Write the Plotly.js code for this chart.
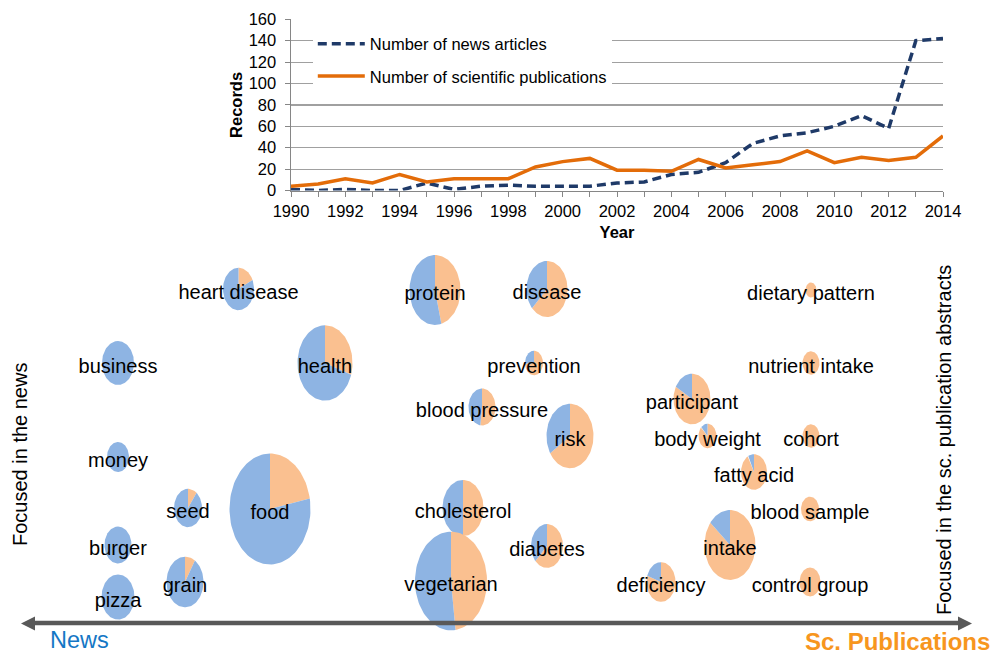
<!DOCTYPE html>
<html>
<head>
<meta charset="utf-8">
<script src="https://cdn.plot.ly/plotly-3.0.1.min.js"></script>
<style>html,body{margin:0;padding:0;background:#fff}#chart{width:993px;height:654px}</style>
</head>
<body>
<div id="chart"></div>
<script>
// ---- Top chart data ----
const years = [1990,1991,1992,1993,1994,1995,1996,1997,1998,1999,2000,2001,2002,2003,2004,2005,2006,2007,2008,2009,2010,2011,2012,2013,2014];
const newsArticles = [1,0,1,0,0,7,1,4,5,4,4,4,7,8,15,17,26,44,51,54,60,70,58,140,142];
const sciPublications = [4,6,11,7,15,8,11,11,11,22,27,30,19,19,18,29,21,24,27,37,26,31,28,31,51];

// ---- Term map data (position on the news <-> sc. publications map) ----
const terms = ["heart disease","protein","disease","dietary pattern","business","health","prevention","nutrient intake","participant","blood pressure","risk","body weight","cohort","money","fatty acid","seed","food","cholesterol","blood sample","burger","diabetes","intake","grain","vegetarian","deficiency","control group","pizza"];
const termX = [238.5,435,547,811,118,325,534,811,692,482,570,707.5,811,118,754,188,270,463,810,118,547,730,185,451,661,810,118];
const termY = [289,290,289,290,363,363,363,363,399,407,436,436,436,457,472,508,509,508,509,545,546,545,582,581,582,582,597];
const termSize = [31,51,41,11,32,55,18,17,37,27,47,18,17,22,26,28,81,41,18,27,32,51,37,72,29,21,33];
const sciShare = [0.18,0.46,0.63,1,0,0.30,0.74,1,0.83,0.52,0.66,0.87,1,0,0.92,0.105,0.22,0.5,1,0,0.63,0.86,0.09,0.48,0.8,1,0];

const NAVY = "#1f3a68", ORANGE = "#e36c09";
const BLUE_SLICE = "#8eb4e3", ORANGE_SLICE = "#fac090";
const FONT = "Arial, 'Liberation Sans', sans-serif";
const ASPECT = 1.37;

const traces = [];
traces.push({
  x: years, y: newsArticles, type: "scatter", mode: "lines",
  name: "Number of news articles", legendgroup: "a",
  line: {color: NAVY, width: 3.5, dash: "9px,5px"},
  xaxis: "x", yaxis: "y", hoverinfo: "x+y"
});
traces.push({
  x: years, y: sciPublications, type: "scatter", mode: "lines",
  name: "Number of scientific publications", legendgroup: "b",
  line: {color: ORANGE, width: 3.5},
  xaxis: "x", yaxis: "y", hoverinfo: "x+y"
});

function slice(cx, cy, rx, ry, a0, a1, withCenter) {
  const xs = [], ys = [];
  if (withCenter) { xs.push(cx); ys.push(cy); }
  const n = Math.max(4, Math.ceil((a1 - a0) / (Math.PI * 2) * 120));
  for (let k = 0; k <= n; k++) {
    const t = a0 + (a1 - a0) * k / n;
    xs.push(cx + rx * Math.sin(t));
    ys.push(cy - ry * Math.cos(t));
  }
  if (withCenter) { xs.push(cx); ys.push(cy); }
  return {xs, ys};
}

terms.forEach((term, i) => {
  const rx = termSize[i] / 2, ry = rx * ASPECT;
  const s = sciShare[i];
  const full = (s <= 0 || s >= 1);
  const parts = [];
  if (s > 0) parts.push({a0: 0, a1: 2 * Math.PI * s, color: ORANGE_SLICE, name: "Sc. publications"});
  if (s < 1) parts.push({a0: 2 * Math.PI * s, a1: 2 * Math.PI, color: BLUE_SLICE, name: "News"});
  parts.forEach(p => {
    const g = slice(termX[i], termY[i], rx, ry, p.a0, p.a1, !full);
    traces.push({
      x: g.xs, y: g.ys, type: "scatter", mode: "lines", fill: "toself",
      fillcolor: p.color, line: {width: 0, color: p.color},
      xaxis: "x2", yaxis: "y2", showlegend: false, hoverinfo: "text",
      text: term + " (" + p.name + ")"
    });
  });
});

traces.push({
  x: termX, y: termY.map(v => v + 5), text: terms, type: "scatter", mode: "text",
  textposition: "middle center",
  textfont: {family: FONT, size: 20, color: "#000"},
  xaxis: "x2", yaxis: "y2", showlegend: false, hoverinfo: "text"
});

const layout = {
  width: 993, height: 654,
  margin: {l: 0, r: 0, t: 0, b: 0},
  paper_bgcolor: "#fff", plot_bgcolor: "rgba(0,0,0,0)",
  font: {family: FONT, color: "#000"},
  showlegend: true,
  legend: {
    x: 0.315, y: 0.9596, xanchor: "left", yanchor: "top",
    bgcolor: "#fff", borderwidth: 0,
    font: {family: FONT, size: 16.5, color: "#000"},
    itemwidth: 47, tracegroupgap: 8, traceorder: "grouped"
  },
  xaxis: {
    domain: [291/993, 943/993], anchor: "y",
    range: [1990, 2014], dtick: 2, tick0: 1990,
    showgrid: false, zeroline: false,
    showline: true, linecolor: "#868686", linewidth: 1.5,
    ticks: "outside", ticklen: 5, tickcolor: "#868686",
    minor: {dtick: 1, ticks: "outside", ticklen: 5, tickcolor: "#868686", showgrid: false},
    tickfont: {family: FONT, size: 16.5, color: "#000"},
    title: {text: "<b>Year</b>", font: {family: FONT, size: 16.5, color: "#000"}, standoff: 7}
  },
  yaxis: {
    domain: [(654-190.5)/654, (654-19.3)/654], anchor: "x",
    range: [0, 160], dtick: 20,
    showgrid: true, gridcolor: "#a0a0a0", gridwidth: 1.2,
    zeroline: false, showline: true, linecolor: "#868686", linewidth: 1.5,
    ticks: "outside", ticklen: 5, tickcolor: "#868686",
    ticklabelstandoff: 5,
    tickfont: {family: FONT, size: 16.5, color: "#000"},
    title: {text: "<b>Records</b>", font: {family: FONT, size: 16.5, color: "#000"}, standoff: 2}
  },
  xaxis2: {domain: [0, 1], anchor: "y2", range: [0, 993], visible: false, fixedrange: true},
  yaxis2: {domain: [0, 1], anchor: "x2", range: [654, 0], visible: false, fixedrange: true},
  shapes: [
    {type: "line", xref: "paper", yref: "paper", x0: 30/993, x1: 962/993, y0: (654-623)/654, y1: (654-623)/654,
     line: {color: "#595959", width: 4.5}},
    {type: "path", xref: "paper", yref: "paper", fillcolor: "#595959", line: {width: 0},
     path: "M " + (21/993) + " " + ((654-623.5)/654) + " L " + (35/993) + " " + ((654-616.5)/654) + " L " + (35/993) + " " + ((654-630.5)/654) + " Z"},
    {type: "path", xref: "paper", yref: "paper", fillcolor: "#595959", line: {width: 0},
     path: "M " + (972/993) + " " + ((654-623.5)/654) + " L " + (958/993) + " " + ((654-616.5)/654) + " L " + (958/993) + " " + ((654-630.5)/654) + " Z"}
  ],
  annotations: [
    {text: "Focused in the news", textangle: -90, xref: "paper", yref: "paper",
     x: 20/993, y: (654-455)/654, showarrow: false, xanchor: "center", yanchor: "middle",
     font: {family: FONT, size: 20, color: "#000"}},
    {text: "Focused in the sc. publication abstracts", textangle: -90, xref: "paper", yref: "paper",
     x: 944/993, y: (654-440)/654, showarrow: false, xanchor: "center", yanchor: "middle",
     font: {family: FONT, size: 20, color: "#000"}},
    {text: "News", xref: "paper", yref: "paper", x: 48/993, y: (654-640)/654, showarrow: false,
     xanchor: "left", yanchor: "middle", font: {family: FONT, size: 23.5, color: "#1577c5"}},
    {text: "<b>Sc. Publications</b>", xref: "paper", yref: "paper", x: 992/993, y: (654-641)/654, showarrow: false,
     xanchor: "right", yanchor: "middle", font: {family: FONT, size: 24, color: "#f7961e"}}
  ]
};

Plotly.newPlot("chart", traces, layout, {displayModeBar: false, staticPlot: true});
</script>
</body>
</html>
